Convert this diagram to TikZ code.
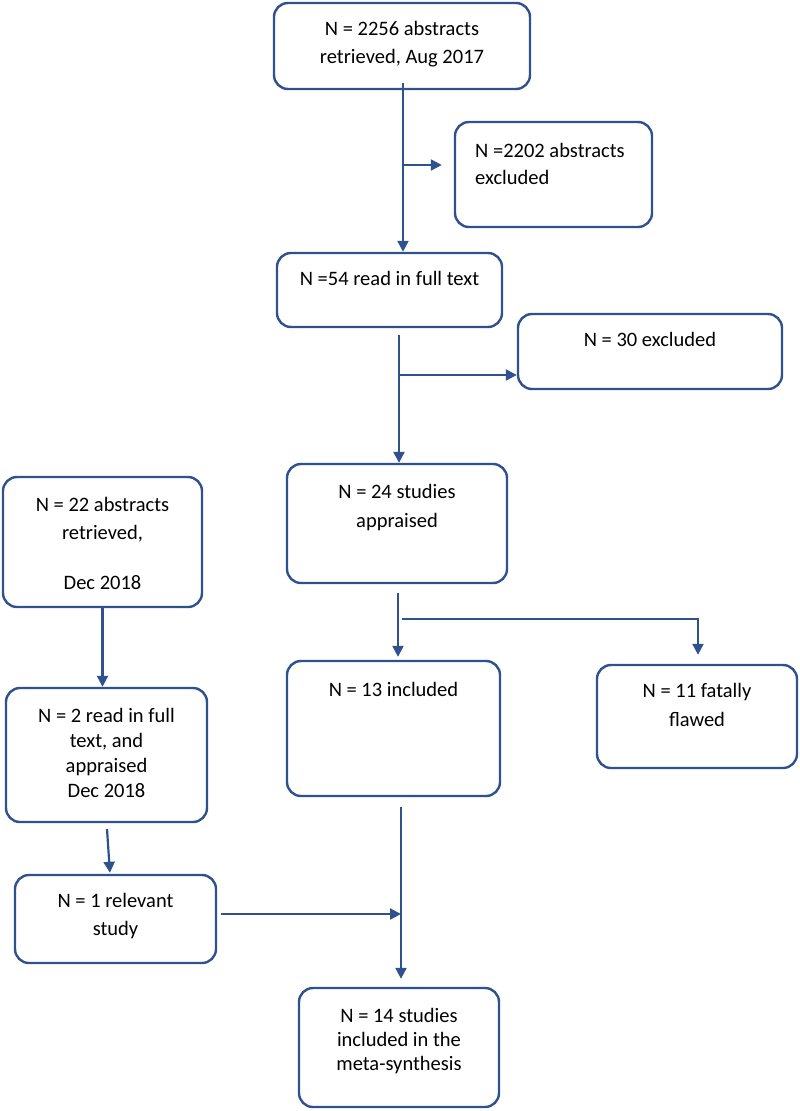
\documentclass[tikz,border=0pt]{standalone}
\usepackage{fontspec}
\setmainfont{Carlito}
\usetikzlibrary{arrows.meta,calc}
\definecolor{wordblue}{RGB}{47,82,143}
\begin{document}
\begin{tikzpicture}[x=1pt,y=-1pt,
  box/.style={draw=wordblue, line width=2.4pt, rounded corners=14pt, inner sep=0pt},
  txt/.style={anchor=base, inner sep=0pt, font=\fontsize{20.5}{28.5}\selectfont},
  conn/.style={draw=wordblue, line width=2.2pt, -{Triangle[length=11pt,width=11pt]}}]
\useasboundingbox (0,0) rectangle (800,1111);

% boxes
\node[box, minimum width=256pt, minimum height=86pt]  (A) at (402,46) {};
\node[box, minimum width=197pt, minimum height=105pt] (B) at (553.5,174.5) {};
\node[box, minimum width=225pt, minimum height=74pt]  (C) at (389.5,290) {};
\node[box, minimum width=264pt, minimum height=75pt]  (D) at (650,351.5) {};
\node[box, minimum width=220pt, minimum height=119pt] (E) at (397,523.5) {};
\node[box, minimum width=199pt, minimum height=130pt] (F) at (102.5,542) {};
\node[box, minimum width=201pt, minimum height=134pt] (G) at (106.5,755) {};
\node[box, minimum width=201pt, minimum height=88pt]  (H) at (115.5,919) {};
\node[box, minimum width=213pt, minimum height=135pt] (I) at (393.5,728.5) {};
\node[box, minimum width=200pt, minimum height=103pt] (J) at (697,716.5) {};
\node[box, minimum width=200pt, minimum height=119pt] (K) at (399,1047.5) {};

% texts
\node[txt] (At) at (402,35) {\parbox[t]{250pt}{\centering N = 2256 abstracts\\retrieved, Aug 2017}};
\node[txt, anchor=base west] (Bt) at (475,157) {\parbox[t]{175pt}{\fontsize{20.5}{27}\selectfont\raggedright N =2202 abstracts\\excluded}};
\node[txt] (Ct) at (389.5,285) {\parbox[t]{220pt}{\centering N =54 read in full text}};
\node[txt] (Dt) at (650,346) {\parbox[t]{260pt}{\centering N = 30 excluded}};
\node[txt] (Et) at (397,498) {\parbox[t]{215pt}{\centering\fontsize{20.5}{29}\selectfont N = 24 studies\\appraised}};
\node[txt] (Ft) at (102.5,511) {\parbox[t]{195pt}{\centering N = 22 abstracts\\retrieved,\\[21.5pt]Dec 2018}};
\node[txt] (Gt) at (106.5,722) {\parbox[t]{195pt}{\centering\fontsize{20.5}{25}\selectfont N = 2 read in full\\text, and\\appraised\\Dec 2018}};
\node[txt] (Ht) at (115.5,907) {\parbox[t]{195pt}{\centering N = 1 relevant\\study}};
\node[txt] (It) at (393.5,696) {\parbox[t]{210pt}{\centering N = 13 included}};
\node[txt] (Jt) at (697,697) {\parbox[t]{195pt}{\centering\fontsize{20.5}{29}\selectfont N = 11 fatally\\flawed}};
\node[txt] (Kt) at (399,1022) {\parbox[t]{195pt}{\centering\fontsize{20.5}{24}\selectfont N = 14 studies\\included in the\\meta-synthesis}};

% connector points
\coordinate (a1) at (403,83);
\coordinate (a2) at (403,165);
\coordinate (c1) at (399,335);
\coordinate (c2) at (399,375);
\coordinate (e1) at (398,593);
\coordinate (e2) at (402,619);
\coordinate (e3) at (698,619);
\coordinate (g1) at (107,829);
\coordinate (h1) at (221,914);
\coordinate (h2) at (401,914);
\coordinate (i1) at (401,807);

% connectors
\draw[conn] (a1) -- (a1 |- C.north);
\draw[conn, shorten >=12pt] (a2) -- (B.west |- a2);
\draw[conn] (c1) -- (c1 |- E.north);
\draw[conn] (c2) -- (D.west |- c2);
\draw[conn, shorten >=3pt] (e1) -- (e1 |- I.north);
\draw[conn, shorten >=9pt] (e2) -- (e3) -- (e3 |- J.north);
\draw[conn] (F.south) -- (F.south |- G.north);
\draw[conn, shorten >=1pt] (g1) -- ([xshift=-5.5pt]H.north);
\draw[conn] (h1) -- (h2);
\draw[conn, shorten >=8pt] (i1) -- (i1 |- K.north);
\end{tikzpicture}
\end{document}
